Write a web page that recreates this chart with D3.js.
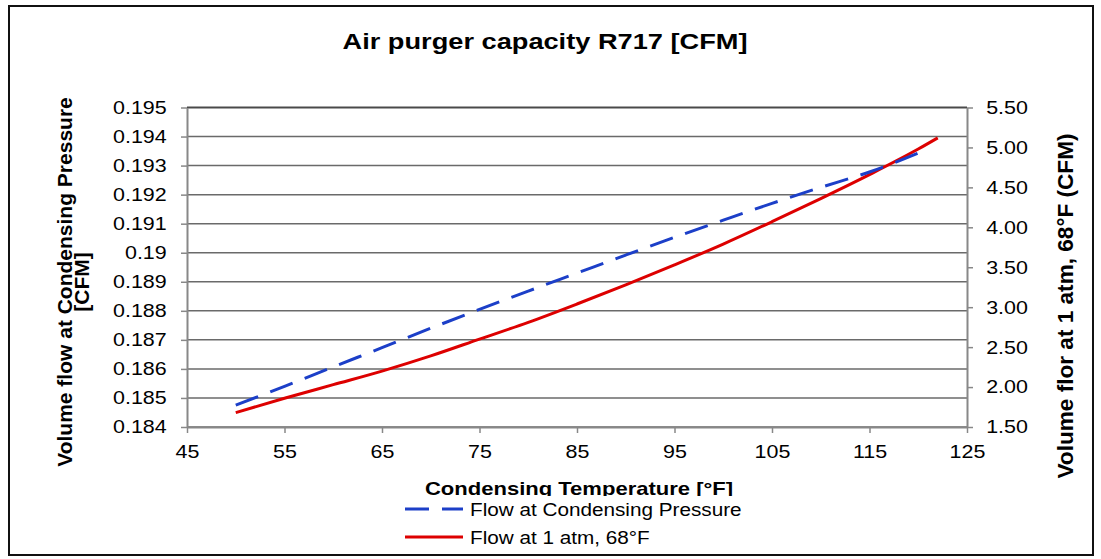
<!DOCTYPE html>
<html>
<head>
<meta charset="utf-8">
<script src="https://cdn.jsdelivr.net/npm/d3@7"></script>
<style>
  body { margin: 0; background: #fff; }
  text { font-family: Arial, "Liberation Sans", sans-serif; fill: #000; }
</style>
</head>
<body>
<svg id="chart" width="1101" height="559"></svg>
<script>
// data
var tempsCond = [50, 55, 60, 65, 70, 75, 80, 85, 90, 95, 100, 105, 110, 115, 121];
var flowCond = [0.18475, 0.18540, 0.18607, 0.18673, 0.18740, 0.18805, 0.18868, 0.18930,
                0.18992, 0.19053, 0.19112, 0.19170, 0.19225, 0.19278, 0.19357];
var tempsAtm = [50, 55, 60, 65, 70, 75, 80, 85, 90, 95, 100, 105, 110, 115, 120, 122];
var flowAtm = [1.68, 1.86, 2.03, 2.20, 2.39, 2.60, 2.81, 3.04, 3.28, 3.53, 3.79, 4.07,
               4.36, 4.66, 4.98, 5.12];
var xTicks = [45, 55, 65, 75, 85, 95, 105, 115, 125];
var leftTicks = [0.184, 0.185, 0.186, 0.187, 0.188, 0.189, 0.19, 0.191, 0.192, 0.193, 0.194, 0.195];
var leftLabels = ["0.184", "0.185", "0.186", "0.187", "0.188", "0.189", "0.19", "0.191", "0.192", "0.193", "0.194", "0.195"];
var rightTicks = [1.5, 2.0, 2.5, 3.0, 3.5, 4.0, 4.5, 5.0, 5.5];
var seriesNames = ["Flow at Condensing Pressure", "Flow at 1 atm, 68\u00b0F"];

var svg = d3.select("#chart");
var L = 187, R = 967, T = 107.5, B = 427;
var stretch = 1.16;

var x = d3.scaleLinear().domain([45, 125]).range([L, R]);
var yL = d3.scaleLinear().domain([0.184, 0.195]).range([B, T]);
var yR = d3.scaleLinear().domain([1.5, 5.5]).range([B, T]);

// outer frame
svg.append("rect")
  .attr("x", 9).attr("y", 6).attr("width", 1084).attr("height", 549)
  .attr("fill", "none").attr("stroke", "#111").attr("stroke-width", 2);

// gridlines
svg.append("g").selectAll("line")
  .data(leftTicks)
  .join("line")
  .attr("x1", L).attr("x2", R)
  .attr("y1", d => yL(d)).attr("y2", d => yL(d))
  .attr("stroke", (d, i) => i == leftTicks.length - 1 ? "#4a4a4a" : "#6a6a6a")
  .attr("stroke-width", (d, i) => i == leftTicks.length - 1 ? 2 : 1.5);

function styleAxis(g) {
  g.select(".domain").attr("stroke", "#888").attr("stroke-width", 2);
  g.selectAll(".tick line").attr("stroke", "#888").attr("stroke-width", 1.5);
  g.selectAll(".tick text")
    .attr("fill", "#000")
    .style("font-size", "18.5px")
    .style("font-family", "Arial, 'Liberation Sans', sans-serif")
    .attr("transform", "scale(" + stretch + ",1)");
}

svg.append("g")
  .attr("transform", "translate(0," + B + ")")
  .call(d3.axisBottom(x).tickValues(xTicks).tickSize(6).tickSizeOuter(0).tickPadding(12).tickFormat(d3.format("d")))
  .call(styleAxis);

svg.append("g")
  .attr("transform", "translate(" + L + ",0)")
  .call(d3.axisLeft(yL).tickValues(leftTicks).tickSize(6).tickSizeOuter(0).tickPadding(11.5)
    .tickFormat((d, i) => leftLabels[i]))
  .call(styleAxis);

svg.append("g")
  .attr("transform", "translate(" + R + ",0)")
  .call(d3.axisRight(yR).tickValues(rightTicks).tickSize(6).tickSizeOuter(0).tickPadding(10.5)
    .tickFormat(d3.format(".2f")))
  .call(styleAxis);

// series
var lineCond = d3.line()
  .x((d, i) => x(tempsCond[i]))
  .y(d => yL(d))
  .curve(d3.curveMonotoneX);
var lineAtm = d3.line()
  .x((d, i) => x(tempsAtm[i]))
  .y(d => yR(d))
  .curve(d3.curveMonotoneX);

svg.append("path")
  .attr("d", lineAtm(flowAtm))
  .attr("fill", "none")
  .attr("stroke", "#dd0000")
  .attr("stroke-width", 3);

svg.append("path")
  .attr("d", lineCond(flowCond))
  .attr("fill", "none")
  .attr("stroke", "#1c3fc8")
  .attr("stroke-width", 3)
  .attr("stroke-dasharray", "24,13");

// title
svg.append("text")
  .attr("transform", "translate(545,49) scale(1.22,1)")
  .attr("text-anchor", "middle")
  .style("font-size", "22.3px")
  .style("font-weight", "bold")
  .text("Air purger capacity R717 [CFM]");

// axis titles
var leftTitle = svg.append("text")
  .attr("transform", "translate(0,282) rotate(-90)")
  .attr("text-anchor", "middle")
  .style("font-size", "21px")
  .style("font-weight", "bold");
leftTitle.append("tspan").attr("x", 0).attr("y", 71.5).text("Volume flow at Condensing Pressure");
leftTitle.append("tspan").attr("x", 0).attr("y", 88.5).text("[CFM]");

svg.append("text")
  .attr("transform", "translate(1073,306) rotate(-90)")
  .attr("text-anchor", "middle")
  .style("font-size", "22.6px")
  .style("font-weight", "bold")
  .text("Volume flor at 1 atm, 68\u00b0F (CFM)");

svg.append("text")
  .attr("transform", "translate(579,495) scale(" + stretch + ",1)")
  .attr("text-anchor", "middle")
  .style("font-size", "19px")
  .style("font-weight", "bold")
  .text("Condensing Temperature [\u00b0F]");

// legend (its white box hides the foot of the x title, as in the original)
var legend = svg.append("g");
legend.append("rect")
  .attr("x", 398).attr("y", 496).attr("width", 350).attr("height", 56)
  .attr("fill", "#fff");

var legendRows = [
  {name: seriesNames[0], color: "#1c3fc8", dash: "24,13", y: 509},
  {name: seriesNames[1], color: "#dd0000", dash: null, y: 537}
];
legendRows.forEach(function(r) {
  legend.append("line")
    .attr("x1", 405).attr("x2", 463)
    .attr("y1", r.y).attr("y2", r.y)
    .attr("stroke", r.color)
    .attr("stroke-width", 3)
    .attr("stroke-dasharray", r.dash);
  legend.append("text")
    .attr("transform", "translate(470," + (r.y + 6.5) + ") scale(1.12,1)")
    .style("font-size", "18.5px")
    .text(r.name);
});
</script>
</body>
</html>
